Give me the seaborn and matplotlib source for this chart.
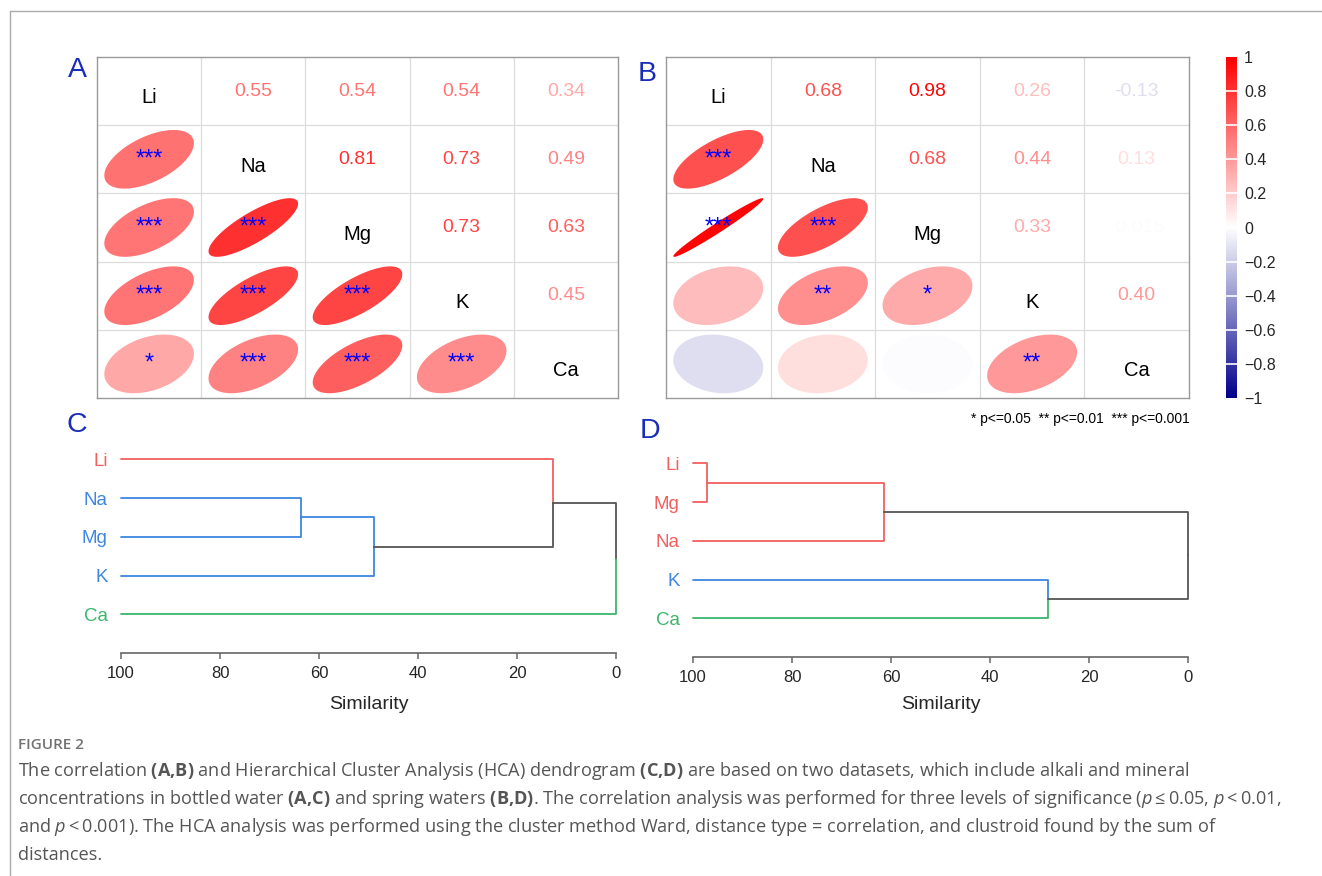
import numpy as np
import matplotlib
matplotlib.use("Agg")
import matplotlib.pyplot as plt
import seaborn as sns
from matplotlib.lines import Line2D
from matplotlib.colors import Normalize
from matplotlib.cm import ScalarMappable

# correlation data (upper triangle, row by row)
elements = ["Li", "Na", "Mg", "K", "Ca"]
# pairs: Li-Na, Li-Mg, Li-K, Li-Ca, Na-Mg, Na-K, Na-Ca, Mg-K, Mg-Ca, K-Ca
corr_bottled = [0.55, 0.54, 0.54, 0.34, 0.81, 0.73, 0.49, 0.73, 0.63, 0.45]
sig_bottled = ["***", "***", "***", "*", "***", "***", "***", "***", "***", "***"]
corr_spring = [0.68, 0.98, 0.26, -0.13, 0.68, 0.44, 0.13, 0.33, -0.015, 0.40]
sig_spring = ["***", "***", "", "", "***", "**", "", "*", "", "**"]

cbar_ticks = [1, 0.8, 0.6, 0.4, 0.2, 0, -0.2, -0.4, -0.6, -0.8, -1]

# dendrogram data (similarity of each merge)
leaves_c = ["Li", "Na", "Mg", "K", "Ca"]
groups_c = ["red", "blue", "blue", "blue", "green"]
merges_c = [("Na", "Mg", 63.6), ("Na+Mg", "K", 48.8),
            ("Li", "Na+Mg+K", 12.8), ("Li+Na+Mg+K", "Ca", 0.0)]

leaves_d = ["Li", "Mg", "Na", "K", "Ca"]
groups_d = ["red", "red", "red", "blue", "green"]
merges_d = [("Li", "Mg", 97.1), ("Li+Mg", "Na", 61.5),
            ("K", "Ca", 28.3), ("Li+Mg+Na", "K+Ca", 0.0)]

sim_ticks = [100, 80, 60, 40, 20, 0]

sns.set_theme(style="white")
plt.rcParams["font.family"] = ["Liberation Sans", "DejaVu Sans"]
plt.rcParams["mathtext.fontset"] = "custom"
plt.rcParams["mathtext.rm"] = "Open Sans"
plt.rcParams["mathtext.bf"] = "Open Sans:bold"
plt.rcParams["mathtext.it"] = "Open Sans:italic"

cmap = sns.blend_palette(["darkblue", "white", "red"], as_cmap=True)
norm = Normalize(-1, 1)
group_colors = {"red": "#F25F5F", "blue": "#3F86E0", "green": "#3DB56B"}
grey = "#555555"
letter_col = "#1A2DB8"

W, H = 1322, 876
fig = plt.figure(figsize=(W / 100, H / 100), dpi=100)


def px_axes(x0, y0, x1, y1):
    return fig.add_axes([x0 / W, 1 - y1 / H, (x1 - x0) / W, (y1 - y0) / H])


def fmt(v):
    return f"{v:.3f}" if abs(v) < 0.1 else f"{v:.2f}"


def draw_corr(ax, values, stars):
    n = len(elements)
    mat = np.eye(n)
    sig = [["" for _ in range(n)] for _ in range(n)]
    k = 0
    for i in range(n):
        for j in range(i + 1, n):
            mat[i, j] = mat[j, i] = values[k]
            sig[j][i] = stars[k]
            k += 1
    ax.set_xlim(0, n)
    ax.set_ylim(0, n)
    for g in range(1, n):
        ax.axvline(g, color="#dcdcdc", lw=0.9, zorder=0)
        ax.axhline(g, color="#dcdcdc", lw=0.9, zorder=0)
    t = np.linspace(0, 2 * np.pi, 120)
    for i in range(n):
        for j in range(n):
            cx, cy = j + 0.5, n - i - 0.5
            r = mat[i, j]
            if i == j:
                ax.text(cx, cy - 0.1, elements[i], ha="center", va="center",
                        fontsize=14.5, color="black")
            elif j > i:
                ax.text(cx, cy, fmt(r), ha="center", va="center",
                        fontsize=14, color=cmap(norm(r)))
            else:
                d = np.arccos(r)
                ex = cx + 0.86 * np.cos(t + d / 2) / 2
                ey = cy + 0.86 * np.cos(t - d / 2) / 2
                ax.fill(ex, ey, color=cmap(norm(r)), lw=0, zorder=1)
                if sig[i][j]:
                    ax.text(cx, cy, sig[i][j], ha="center", va="center",
                            fontsize=17, color="#0000FF", zorder=2)
    ax.set_xticks([])
    ax.set_yticks([])
    for s in ax.spines.values():
        s.set_color("#999999")
        s.set_linewidth(1.0)


def draw_dendro(ax, leaves, groups, merges, labelpad):
    nodes = {}
    for i, (name, g) in enumerate(zip(leaves, groups)):
        nodes[name] = dict(y=-i, h=100.0, color=group_colors[g], leaf=True)
    for a, b, h in merges:
        na, nb = nodes[a], nodes[b]
        col = na["color"] if na["color"] == nb["color"] else grey
        ymid = (na["y"] + nb["y"]) / 2
        for child in (na, nb):
            ec = child["color"] if (child["leaf"] or child["color"] == col) else grey
            ax.plot([child["h"], h, h], [child["y"], child["y"], ymid],
                    color=ec, lw=1.3, clip_on=False)
        nodes[a + "+" + b] = dict(y=ymid, h=h, color=col, leaf=False)
    ax.set_xlim(100, 0)
    ax.set_ylim(-5.0, 0.5)
    ax.set_yticks(range(0, -len(leaves), -1))
    ax.set_yticklabels(leaves, fontsize=13.5)
    for lab, g in zip(ax.get_yticklabels(), groups):
        lab.set_color(group_colors[g])
    ax.tick_params(axis="y", length=0, pad=9.5)
    ax.set_xticks(sim_ticks)
    ax.set_xticklabels([str(v) for v in sim_ticks], fontsize=12)
    ax.tick_params(axis="x", length=4.5, width=1.1, color="#666666", pad=4.5, direction="out",
                   bottom=True)
    ax.set_xlabel("Similarity", fontsize=14, labelpad=labelpad)
    for side in ["top", "right", "left"]:
        ax.spines[side].set_visible(False)
    ax.spines["bottom"].set_color("#666666")
    ax.spines["bottom"].set_linewidth(1.2)
    ax.patch.set_alpha(0)


# correlation matrices
ax_a = px_axes(97, 57, 618, 398)
draw_corr(ax_a, corr_bottled, sig_bottled)
ax_b = px_axes(666, 57, 1189, 398)
draw_corr(ax_b, corr_spring, sig_spring)

# colour bar
ax_cb = px_axes(1226, 57, 1237, 398)
cb = fig.colorbar(ScalarMappable(norm=norm, cmap=cmap), cax=ax_cb)
cb.set_ticks(cbar_ticks)
cb.set_ticklabels([f"{v:g}".replace("-", "\u2212") for v in cbar_ticks])
cb.outline.set_visible(False)
ax_cb.tick_params(length=0, pad=5, labelsize=11.5)
for v in cbar_ticks[1:-1]:
    ax_cb.axhline(v, color="white", lw=1.2)

fig.text(1190 / W, 1 - 419 / H, "* p<=0.05  ** p<=0.01  *** p<=0.001",
         ha="right", va="center", fontsize=10, color="black")

# dendrograms
ax_c = px_axes(121, 440, 616, 653)
draw_dendro(ax_c, leaves_c, groups_c, merges_c, labelpad=11)
ax_d = px_axes(693, 444, 1188, 657)
draw_dendro(ax_d, leaves_d, groups_d, merges_d, labelpad=8.5)

# panel letters
for lab, x, y in [("A", 77, 70), ("B", 647, 74), ("C", 77, 425), ("D", 650, 431)]:
    fig.text(x / W, 1 - y / H, lab, ha="center", va="center", fontsize=20.5, color=letter_col)

# page frame
fig.add_artist(Line2D([10 / W, 1], [1 - 11 / H, 1 - 11 / H], color="#aaaaaa", lw=1))
fig.add_artist(Line2D([10 / W, 10 / W], [0, 1 - 11 / H], color="#aaaaaa", lw=1))

# caption
cap_col = "#555555"
fig.text(18 / W, 1 - 745 / H, "FIGURE 2", ha="left", va="center", fontsize=11,
         family="Open Sans", weight="semibold", color="#727272")
caption = [
    r"The correlation $\mathbf{(A{,}B)}$ and Hierarchical Cluster Analysis (HCA) dendrogram "
    r"$\mathbf{(C{,}D)}$ are based on two datasets, which include alkali and mineral",
    r"concentrations in bottled water $\mathbf{(A{,}C)}$ and spring waters $\mathbf{(B{,}D)}$. "
    r"The correlation analysis was performed for three levels of significance "
    "($\\mathit{p}$\u2009\u2264\u20090.05, $\\mathit{p}$\u2009<\u20090.01,",
    "and $\\mathit{p}$\u2009<\u20090.001). The HCA analysis was performed using the cluster method "
    "Ward, distance type = correlation, and clustroid found by the sum of",
    "distances.",
]
for k, line in enumerate(caption):
    fig.text(18 / W, 1 - (771 + 28 * k) / H, line, ha="left", va="center",
             fontsize=13.1, family="Open Sans", color=cap_col)

fig.savefig("out.png", dpi=100, facecolor="white")
